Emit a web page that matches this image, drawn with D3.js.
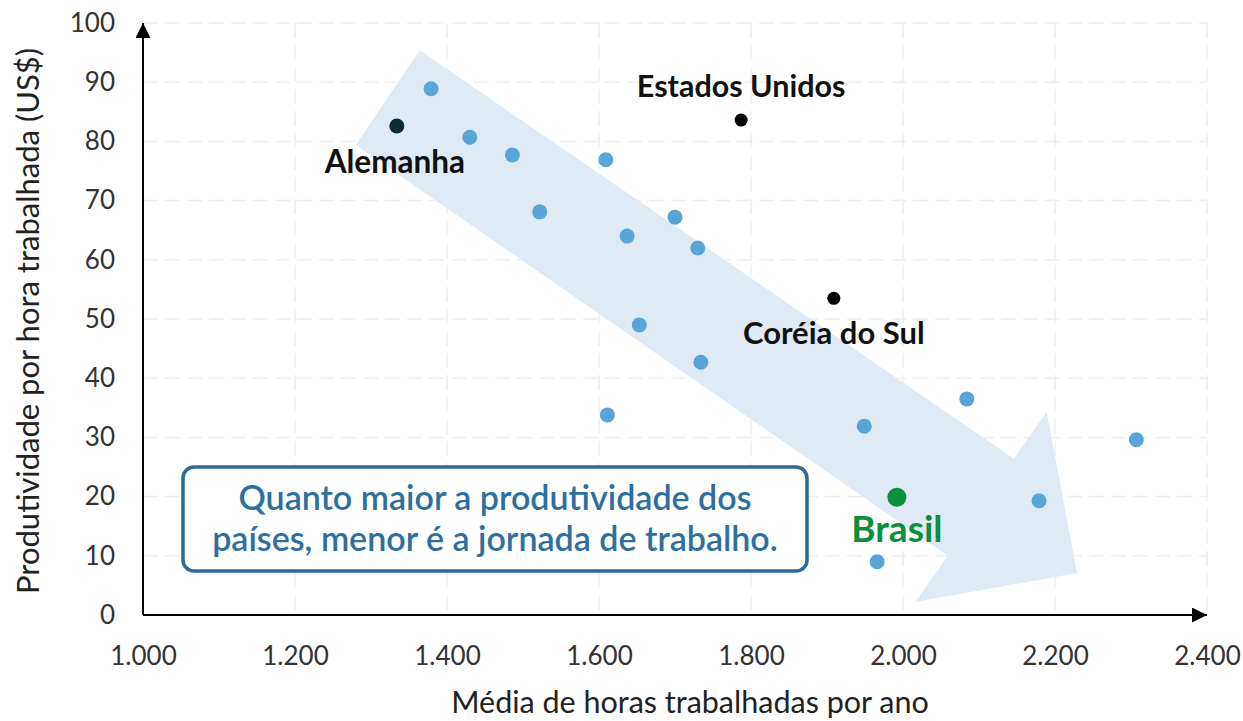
<!DOCTYPE html>
<html>
<head>
<meta charset="utf-8">
<script src="https://cdn.jsdelivr.net/npm/d3@7"></script>
<style>
  body { margin: 0; background: #fff; }
  svg text { font-family: Lato, "Noto Sans", sans-serif; }
</style>
</head>
<body>
<div id="chart"></div>
<script>
// Países (horas/ano, produtividade US$)
const hours = [1379, 1430, 1486, 1522, 1609, 1637, 1700, 1730, 1653, 1734, 1611, 1949, 2084, 2179, 2307, 1966];
const productivity = [88.9, 80.7, 77.7, 68.1, 76.9, 64.0, 67.2, 62.0, 49.0, 42.7, 33.8, 31.9, 36.5, 19.3, 29.6, 9.0];

const namedCountries = ["Alemanha", "Estados Unidos", "Coréia do Sul", "Brasil"];
const namedHours = [1334, 1787, 1909, 1992];
const namedProd = [82.6, 83.6, 53.5, 19.9];

const xTicks = [1000, 1200, 1400, 1600, 1800, 2000, 2200, 2400];
const yTicks = [0, 10, 20, 30, 40, 50, 60, 70, 80, 90, 100];

// trend arrow outline in data units
const arrowHours = [1280, 1364, 2146, 2189, 2229, 2016, 2059];
const arrowProd = [79.4, 95.4, 26.4, 34.3, 7.1, 2.2, 10.0];

const width = 1243, height = 721;
const margin = { top: 23, right: 36, bottom: 106, left: 143 };
const plotW = width - margin.left - margin.right;
const plotH = height - margin.top - margin.bottom;

const svg = d3.select("#chart").append("svg")
  .attr("width", width)
  .attr("height", height);

const g = svg.append("g")
  .attr("transform", `translate(${margin.left},${margin.top})`);

const x = d3.scaleLinear().domain([1000, 2400]).range([0, plotW]);
const y = d3.scaleLinear().domain([0, 100]).range([plotH, 0]);

const fmt = d => d3.format(",")(d).replace(",", ".");

// grid
g.append("g")
  .selectAll("line")
  .data(xTicks.slice(1))
  .join("line")
    .attr("x1", d => x(d)).attr("x2", d => x(d))
    .attr("y1", 0).attr("y2", plotH)
    .attr("stroke", "#eeeeee")
    .attr("stroke-width", 1.5)
    .attr("stroke-dasharray", "15,7");

g.append("g")
  .selectAll("line")
  .data(yTicks.slice(1))
  .join("line")
    .attr("x1", 0).attr("x2", plotW)
    .attr("y1", d => y(d)).attr("y2", d => y(d))
    .attr("stroke", "#eeeeee")
    .attr("stroke-width", 1.5)
    .attr("stroke-dasharray", "15,7");

// trend arrow
const arrowPts = arrowHours.map((h, i) => [x(h), y(arrowProd[i])]);
g.append("path")
  .attr("d", d3.line()(arrowPts) + "Z")
  .attr("fill", "#dfeaf5");

// axes
const xAxis = g.append("g")
  .attr("transform", `translate(0,${plotH})`)
  .call(d3.axisBottom(x).tickValues(xTicks).tickFormat(fmt).tickSize(0).tickPadding(32));
xAxis.select(".domain").remove();
xAxis.selectAll("text")
  .attr("font-family", "Lato, 'Noto Sans', sans-serif")
  .attr("font-size", 26)
  .attr("fill", "#333");

const yAxis = g.append("g")
  .call(d3.axisLeft(y).tickValues(yTicks).tickSize(0).tickPadding(28));
yAxis.select(".domain").remove();
yAxis.selectAll("text")
  .attr("font-family", "Lato, 'Noto Sans', sans-serif")
  .attr("font-size", 26)
  .attr("fill", "#333");

// axis lines with arrowheads
svg.append("defs").append("marker")
  .attr("id", "arr")
  .attr("viewBox", "0 0 10 10")
  .attr("refX", 10).attr("refY", 5)
  .attr("markerWidth", 7.5).attr("markerHeight", 7.5)
  .attr("markerUnits", "strokeWidth")
  .attr("orient", "auto")
  .append("path")
    .attr("d", "M0,0L10,5L0,10Z")
    .attr("fill", "#000");

g.append("line")
  .attr("x1", 0).attr("y1", plotH)
  .attr("x2", plotW).attr("y2", plotH)
  .attr("stroke", "#000").attr("stroke-width", 2)
  .attr("marker-end", "url(#arr)");

g.append("line")
  .attr("x1", 0).attr("y1", plotH)
  .attr("x2", 0).attr("y2", 0)
  .attr("stroke", "#000").attr("stroke-width", 2)
  .attr("marker-end", "url(#arr)");

// axis titles
svg.append("text")
  .attr("x", 690)
  .attr("y", 713)
  .attr("text-anchor", "middle")
  .attr("font-size", 30.5)
  .attr("fill", "#222")
  .text("Média de horas trabalhadas por ano");

svg.append("text")
  .attr("transform", "rotate(-90)")
  .attr("x", -321)
  .attr("y", 39)
  .attr("text-anchor", "middle")
  .attr("font-size", 31)
  .attr("fill", "#222")
  .text("Produtividade por hora trabalhada (US$)");

// points
g.selectAll("circle.pt")
  .data(hours.map((h, i) => ({ h, p: productivity[i] })))
  .join("circle")
    .attr("class", "pt")
    .attr("cx", d => x(d.h))
    .attr("cy", d => y(d.p))
    .attr("r", 7.5)
    .attr("fill", "#5aa5d8");

const named = namedCountries.map((c, i) => ({ c, h: namedHours[i], p: namedProd[i] }));
const dotColor = { "Alemanha": "#0d2b35", "Estados Unidos": "#000", "Coréia do Sul": "#000", "Brasil": "#0a8f3f" };
const dotR = { "Alemanha": 7.5, "Estados Unidos": 6.5, "Coréia do Sul": 6.5, "Brasil": 9.5 };
const labelOff = {
  "Alemanha": [-2, 47], "Estados Unidos": [0, -23],
  "Coréia do Sul": [0, 46], "Brasil": [0, 45]
};
const labelSize = { "Alemanha": 31.5, "Estados Unidos": 30.5, "Coréia do Sul": 31, "Brasil": 37 };

g.selectAll("circle.named")
  .data(named)
  .join("circle")
    .attr("class", "named")
    .attr("cx", d => x(d.h))
    .attr("cy", d => y(d.p))
    .attr("r", d => dotR[d.c])
    .attr("fill", d => dotColor[d.c]);

g.selectAll("text.named")
  .data(named)
  .join("text")
    .attr("class", "named")
    .attr("x", d => x(d.h) + labelOff[d.c][0])
    .attr("y", d => y(d.p) + labelOff[d.c][1])
    .attr("text-anchor", "middle")
    .attr("font-weight", "bold")
    .attr("font-size", d => labelSize[d.c])
    .attr("fill", d => d.c === "Brasil" ? "#0a8f3f" : "#111")
    .text(d => d.c);

// annotation box
const note = svg.append("g");
note.append("rect")
  .attr("x", 183).attr("y", 467)
  .attr("width", 624).attr("height", 104)
  .attr("rx", 11)
  .attr("fill", "#fff")
  .attr("stroke", "#2a6b9b")
  .attr("stroke-width", 3.5);

note.append("text")
  .attr("x", 495).attr("y", 510)
  .attr("text-anchor", "middle")
  .attr("font-size", 34)
  .attr("font-weight", 600)
  .attr("fill", "#2e6f9f")
  .text("Quanto maior a produtividade dos");

note.append("text")
  .attr("x", 495).attr("y", 551)
  .attr("text-anchor", "middle")
  .attr("font-size", 34)
  .attr("font-weight", 600)
  .attr("fill", "#2e6f9f")
  .text("países, menor é a jornada de trabalho.");
</script>
</body>
</html>
